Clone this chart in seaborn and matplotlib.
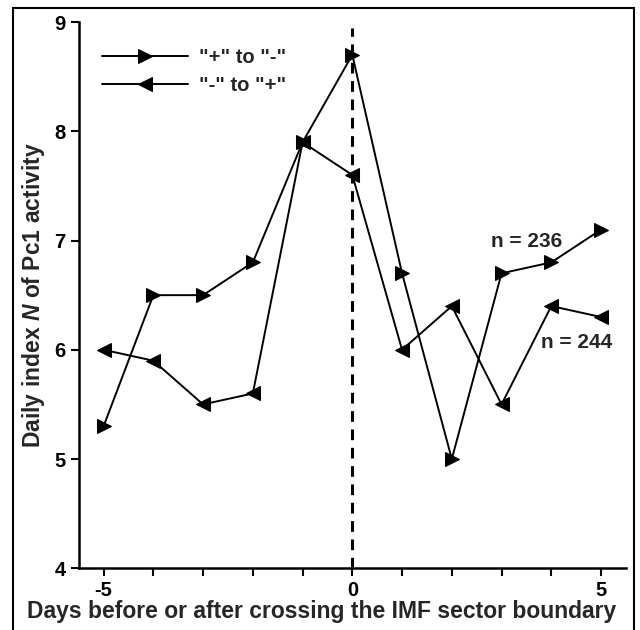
import matplotlib
matplotlib.use("Agg")
import matplotlib.pyplot as plt
import seaborn as sns
import pandas as pd
from matplotlib.patches import Rectangle

days = [-5, -4, -3, -2, -1, 0, 1, 2, 3, 4, 5]
plus_to_minus = [5.3, 6.5, 6.5, 6.8, 7.9, 8.7, 6.7, 5.0, 6.7, 6.8, 7.1]
minus_to_plus = [6.0, 5.9, 5.5, 5.6, 7.9, 7.6, 6.0, 6.4, 5.5, 6.4, 6.3]
series_labels = ['"+" to "-"', '"-" to "+"']
n_labels = ["n = 236", "n = 244"]
yticks = [4, 5, 6, 7, 8, 9]
xticks = [-5, -4, -3, -2, -1, 0, 1, 2, 3, 4, 5]
xticklabels = ["-5", "", "", "", "", "0", "", "", "", "", "5"]

sns.set_theme(style="ticks")
plt.rcParams["font.family"] = ["Liberation Sans", "DejaVu Sans"]
plt.rcParams["font.weight"] = "bold"
plt.rcParams["mathtext.fontset"] = "custom"
plt.rcParams["mathtext.it"] = "Liberation Sans:italic:bold"
plt.rcParams["mathtext.rm"] = "Liberation Sans:bold"

fig = plt.figure(figsize=(6.4, 6.3), dpi=100)
ax = fig.add_axes([0.123, 0.098, 0.855, 0.867])

df1 = pd.DataFrame({"day": days, "N": plus_to_minus})
df2 = pd.DataFrame({"day": days, "N": minus_to_plus})
sns.lineplot(data=df1, x="day", y="N", ax=ax, color="black", marker=">",
             markersize=10, linewidth=1.4, label=series_labels[0], markeredgecolor="black")
sns.lineplot(data=df2, x="day", y="N", ax=ax, color="black", marker="<",
             markersize=10, linewidth=1.4, label=series_labels[1], markeredgecolor="black")

ax.plot([0, 0], [4, 8.95], color="black", linestyle=(0, (3.5, 2.5)), linewidth=2.2, zorder=1)

ax.set_xlim(-5.5, 5.5)
ax.set_ylim(4, 9)
ax.set_xticks(xticks)
ax.set_xticklabels(xticklabels)
ax.set_yticks(yticks)
ax.tick_params(axis="both", direction="out", length=6, width=1.5, labelsize=14.5, colors="black")
for lab in ax.get_xticklabels() + ax.get_yticklabels():
    lab.set_fontweight("bold")
for s in ["top", "right"]:
    ax.spines[s].set_visible(False)
for s in ["left", "bottom"]:
    ax.spines[s].set_linewidth(1.8)
    ax.spines[s].set_color("black")

ax.set_xlabel("Days before or after crossing the IMF sector boundary", fontsize=16.5,
              fontweight="bold")
ax.xaxis.label.set_horizontalalignment("left")
ax.xaxis.set_label_coords(-0.095, -0.058)
ax.set_ylabel("Daily index $\\mathit{N}$ of Pc1 activity", fontsize=16.5,
              fontweight="bold", labelpad=5)

ax.text(2.78, 6.99, n_labels[0], fontsize=15, fontweight="bold", ha="left", va="center")
ax.text(3.80, 6.07, n_labels[1], fontsize=15, fontweight="bold", ha="left", va="center")

leg = ax.legend(loc="upper left", bbox_to_anchor=(0.009, 0.986), frameon=False,
                prop={"size": 14.5, "weight": "bold"}, handlelength=4.3,
                handletextpad=0.55, labelspacing=0.45)

fig.patches.append(Rectangle((0.02, -0.01), 0.97, 0.997, transform=fig.transFigure,
                             fill=False, edgecolor="black", linewidth=1.5))

fig.savefig("out.png", dpi=100)
